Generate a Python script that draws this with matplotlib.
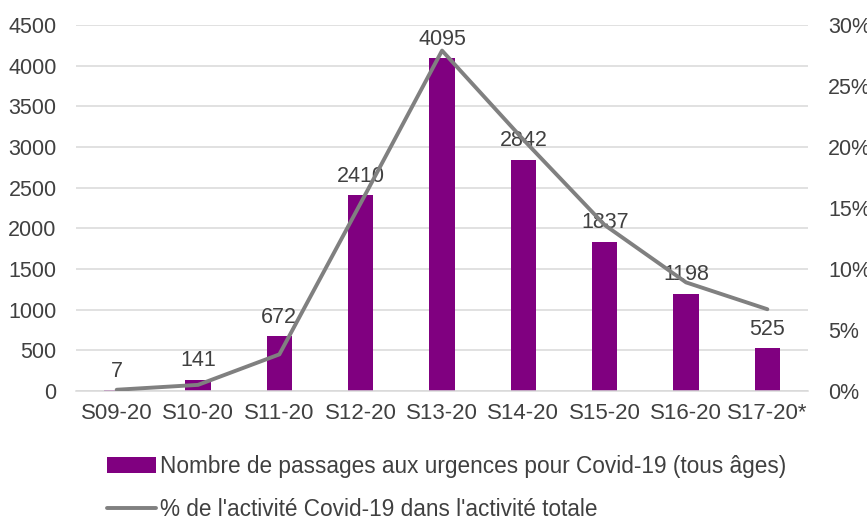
import matplotlib.pyplot as plt
import numpy as np
from matplotlib.ticker import FuncFormatter

plt.rcParams['font.family'] = ['Liberation Sans', 'DejaVu Sans']

weeks = ['S09-20', 'S10-20', 'S11-20', 'S12-20', 'S13-20', 'S14-20', 'S15-20', 'S16-20', 'S17-20*']
passages = [7, 141, 672, 2410, 4095, 2842, 1837, 1198, 525]
pct_activite = [0.1, 0.5, 3.0, 15.4, 27.9, 20.6, 13.6, 8.9, 6.7]

bar_color = '#800080'
line_color = '#808080'
text_color = '#404040'
grid_color = '#d9d9d9'

fig = plt.figure(figsize=(8.67, 5.16), dpi=100)
ax = fig.add_axes([0.0877, 0.2423, 0.8443, 0.7093])
ax2 = ax.twinx()

x = np.arange(len(weeks))
ax.bar(x, passages, width=0.31, color=bar_color, zorder=2,
       label='Nombre de passages aux urgences pour Covid-19 (tous âges)')
for xi, v in zip(x, passages):
    ax.annotate(str(v), (xi, v), xytext=(0, 6), textcoords='offset points',
                ha='center', va='bottom', fontsize=15.5, color=text_color)

ax2.plot(x, pct_activite, color=line_color, linewidth=2.8, solid_capstyle='round',
         label="% de l'activité Covid-19 dans l'activité totale", zorder=3)

ax.set_xlim(-0.5, 8.5)
ax.set_ylim(0, 4500)
ax.set_yticks(np.arange(0, 4501, 500))
ax2.set_ylim(0, 30)
ax2.set_yticks(np.arange(0, 31, 5))
ax2.yaxis.set_major_formatter(FuncFormatter(lambda v, p: f'{v:.0f}%'))

ax.set_xticks(x)
ax.set_xticklabels(weeks)
ax.grid(axis='y', color=grid_color, linewidth=1.1, zorder=0)
ax.set_axisbelow(True)

for a in (ax, ax2):
    for s in a.spines.values():
        s.set_visible(False)
    a.tick_params(length=0, labelsize=15.5, colors=text_color)
ax.spines['bottom'].set_visible(True)
ax.spines['bottom'].set_color(grid_color)
ax.spines['bottom'].set_linewidth(1.1)
ax.tick_params(axis='y', pad=14)
ax.tick_params(axis='x', pad=9, labelsize=16)
ax2.tick_params(axis='y', pad=14.5)

ax2.set_zorder(ax.get_zorder() + 1)
ax2.patch.set_visible(False)

h1, l1 = ax.get_legend_handles_labels()
h2, l2 = ax2.get_legend_handles_labels()
leg = fig.legend(h1 + h2, l1 + l2, loc='upper left', bbox_to_anchor=(0.123, 0.118),
                 frameon=False, fontsize=16.3, handlelength=2.2, handletextpad=0.15,
                 labelspacing=0.86, borderaxespad=0, borderpad=0)
for t in leg.get_texts():
    t.set_color(text_color)

fig.savefig('out.png', dpi=100)
